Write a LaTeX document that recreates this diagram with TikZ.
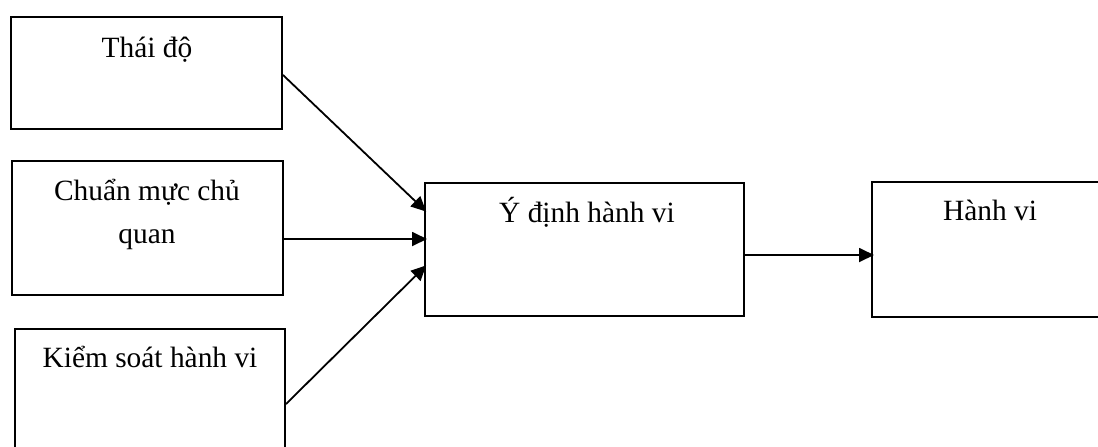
\documentclass[tikz,border=0pt]{standalone}
\usepackage{fontspec}
\setmainfont{Liberation Serif}
\usetikzlibrary{arrows.meta,calc}
\begin{document}
\begin{tikzpicture}[x=0.5pt,y=-0.5pt,
  box/.style={draw=black,line width=1pt,rectangle,inner sep=0pt},
  lbl/.style={anchor=base,inner sep=0pt,font=\fontsize{14.7}{21.5}\selectfont},
  conn/.style={line width=0.9pt,-{Triangle[length=7.5pt,width=7pt]},shorten >=-1.5pt}]
\useasboundingbox (0,0) rectangle (1098,446);
\fill[white] (0,0) rectangle (1098,446);
\clip (0,0) rectangle (1098,446);
% boxes
\node[box,minimum width=135.5pt,minimum height=56pt] (b1) at (146.5,73) {};
\node[box,minimum width=135.5pt,minimum height=67pt] (b2) at (147.5,228) {};
\node[box,minimum width=135pt,minimum height=75pt] (b3) at (150,404) {};
\node[box,minimum width=159.5pt,minimum height=66.5pt] (b4) at (584.5,249.5) {};
\node[box,minimum width=119pt,minimum height=67.5pt] (b5) at (991,249.5) {};
% labels
\node[lbl] (t1) at (147,57) {Thái độ};
\node[lbl] (t2a) at (147,200) {Chuẩn mực chủ};
\node[lbl] (t2b) at (147,243) {quan};
\node[lbl] (t3) at (150,367) {Kiểm soát hành vi};
\node[lbl] (t4) at (587,222) {Ý định hành vi};
\node[lbl] (t5) at (990,220) {Hành vi};
% connectors
\draw[conn] ($(b1.east)+(0,2)$) -- ($(b4.west)+(0,-40)$);
\draw[conn] ($(b2.east)+(0,11)$) -- ($(b4.west)+(0,-10.5)$);
\draw[conn] (b3.east) -- ($(b4.west)+(0,18)$);
\draw[conn] ($(b4.east)+(0,5.5)$) -- ($(b5.west)+(0,5.5)$);
\end{tikzpicture}
\end{document}
